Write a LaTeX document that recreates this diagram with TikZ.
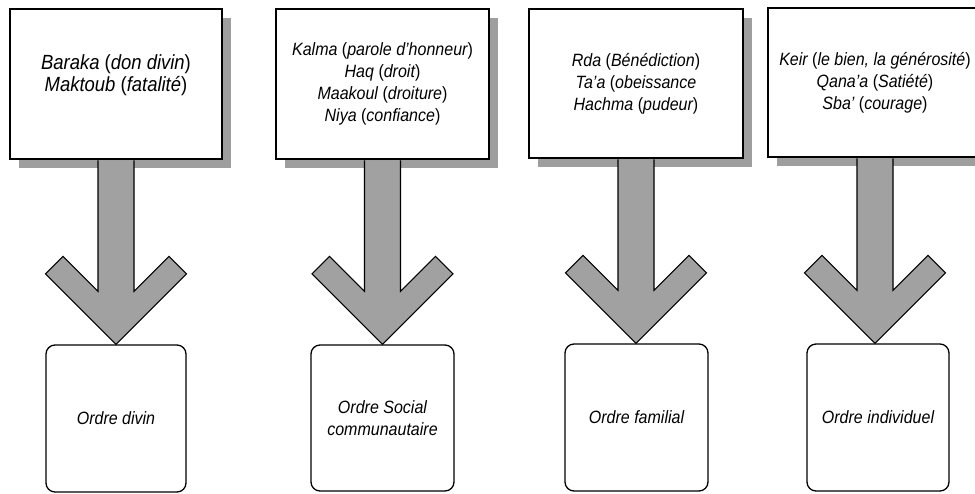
\documentclass[tikz,border=0pt]{standalone}
\usepackage{fontspec}
\setmainfont{Liberation Sans}[FakeStretch=0.9]
\usetikzlibrary{calc,shadows}
\definecolor{arrowgray}{gray}{0.63}
\definecolor{shadowgray}{gray}{0.62}
\newcommand\glpar[1]{{\upshape(}\textit{#1}{\upshape)}}
\newcommand\glopen[1]{{\upshape(}\textit{#1}}
\begin{document}
\begin{tikzpicture}[x=1pt,y=-1pt,
  topbox/.style={draw,line width=1.3pt,fill=white,minimum width=212pt,minimum height=150pt,
    align=center,inner sep=0pt,font=\fontsize{17.8}{22}\selectfont\itshape,
    drop shadow={shadow xshift=9pt,shadow yshift=-9pt,fill=shadowgray,opacity=1}},
  botbox/.style={draw,line width=1.3pt,fill=white,rounded corners=9pt,minimum width=141pt,
    minimum height=147pt,align=center,inner sep=0pt,font=\fontsize{17.8}{22}\selectfont\itshape},
  fatarrow/.style={draw,line width=1.1pt,fill=arrowgray,line join=miter}]
\useasboundingbox (0,0) rectangle (975,493);
\clip (0,0) rectangle (975,493);

\node[topbox,font=\fontsize{20.5}{22}\selectfont\itshape] (t1) at (116,84)
  {Baraka \glpar{don divin}\\Maktoub \glpar{fatalité}\vphantom{g}\\[-6pt]\strut};
\node[topbox,minimum width=213pt] (t2) at (382.5,84)
  {Kalma \glpar{parole d'honneur}\\Haq \glpar{droit}\\Maakoul \glpar{droiture}\\Niya \glpar{confiance}};
\node[topbox,minimum width=214pt,minimum height=149pt] (t3) at (636,83.5)
  {Rda \glpar{Bénédiction}\\Ta'a \glopen{obeissance}\\Hachma \glpar{pudeur}};
\node[topbox,minimum width=214pt,minimum height=149pt] (t4) at (875,82.5)
  {Keir \glpar{le bien, la générosité}\\Qana'a \glpar{Satiété}\\Sba' \glpar{courage}};

\node[botbox,minimum width=140pt] (b1) at (116,418.5) {Ordre divin};
\node[botbox,minimum width=143pt,minimum height=146pt] (b2) at (382.5,418) {Ordre Social\\communautaire};
\node[botbox,minimum width=143pt] (b3) at (636.5,417.5) {Ordre familial};
\node[botbox,minimum width=142pt] (b4) at (878,417.5) {Ordre individuel};

\foreach \i in {1,...,4}{
  \coordinate (tip\i) at (t\i.south |- b\i.north);
  \draw[fatarrow] ($(t\i.south)+(-18,0.7)$) -- ($(tip\i)+(-18,-53)$) -- ($(tip\i)+(-53,-88)$)
    -- ($(tip\i)+(-70.5,-70.5)$) -- (tip\i) -- ($(tip\i)+(70.5,-70.5)$) -- ($(tip\i)+(53,-88)$)
    -- ($(tip\i)+(18,-53)$) -- ($(t\i.south)+(18,0.7)$);
}
\end{tikzpicture}
\end{document}
